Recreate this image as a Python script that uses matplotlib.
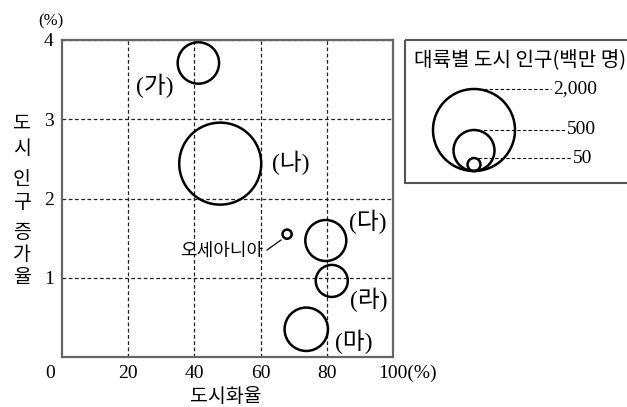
#!/usr/bin/env python3
"""Bubble chart: urbanization rate vs. urban population growth by continent."""

import matplotlib

matplotlib.use("Agg")
import matplotlib.pyplot as plt
from matplotlib.patches import Circle, Rectangle
import numpy as np

# data
labels = ["(가)", "(나)", "(다)", "(라)", "(마)", "오세아니아"]
urban_rate = [41.2, 47.8, 79.7, 81.5, 73.8, 68.0]        # %
urban_growth = [3.71, 2.44, 1.47, 0.96, 0.35, 1.55]      # %
urban_pop = [510, 2000, 500, 305, 560, 25]               # million
legend_values = [2000, 500, 50]
legend_texts = ["2,000", "500", "50"]
xticks = [20, 40, 60, 80, 100]
xticklabels = ["20", "40", "60", "80", ""]
yticks = [1, 2, 3, 4]

KR = ["Noto Sans CJK KR", "DejaVu Sans"]
SERIF = ["Liberation Serif", "DejaVu Serif"]
SERIF_KR = ["Liberation Serif", "Noto Sans CJK KR"]

W, H, DPI = 627, 407, 100
R_MAX = 41.0  # radius in px of the 2,000 bubble


def radius_px(v):
    return R_MAX * np.sqrt(np.asarray(v, dtype=float) / legend_values[0])


fig = plt.figure(figsize=(W / DPI, H / DPI), dpi=DPI)

ax = fig.add_axes([62 / W, 1 - 357 / H, (393 - 62) / W, (357 - 40) / H])
ax.set_xlim(0, 100)
ax.set_ylim(0, 4)
ax.set_xticks(xticks)
ax.set_yticks(yticks)
ax.set_xticklabels(xticklabels, fontfamily=SERIF, fontsize=14)
ax.set_yticklabels([str(t) for t in yticks], fontfamily=SERIF, fontsize=14)
ax.tick_params(length=0, pad=6)
ax.grid(True, color="#222222", lw=0.9, ls=(0, (3, 2)))
ax.set_axisbelow(True)
for sp in ax.spines.values():
    sp.set_color("#666666")
    sp.set_linewidth(1.6)

sizes = (2 * radius_px(urban_pop) * 72 / DPI) ** 2
ax.scatter(urban_rate, urban_growth, s=sizes, facecolors="none",
           edgecolors="black", linewidths=1.8, zorder=3, clip_on=False)

# overlay axes in pixel coordinates for free text / legend
ov = fig.add_axes([0, 0, 1, 1])
ov.set_xlim(0, W)
ov.set_ylim(H, 0)
ov.axis("off")
ov.set_zorder(5)

# bubble labels
label_pos = [(155, 86), (291, 163), (368, 222), (369, 300), (354, 342)]
for (px, py), lab in zip(label_pos, labels[:5]):
    ov.text(px, py, lab, fontfamily=SERIF_KR, fontsize=17, ha="center",
            va="center")
ov.text(222, 251, labels[5], fontfamily=KR, fontsize=13, ha="center", va="center")
ov.plot([267, 281], [250, 240], color="black", lw=0.9)

# axis labels
ov.text(50, 373, "0", fontfamily=SERIF, fontsize=14, ha="center", va="center")
ov.text(378, 373, "100(%)", fontfamily=SERIF, fontsize=14, ha="left", va="center")
ov.text(51, 21, "(%)", fontfamily=SERIF, fontsize=12, ha="center", va="center")
ov.text(226, 396, "도시화율", fontfamily=KR, fontsize=14, ha="center", va="center")
ylab_chars = ["도", "시", "인", "구", "증", "가", "율"]
ylab_y = [123, 148, 180, 203, 232, 255, 277]
for ch, cy in zip(ylab_chars, ylab_y):
    ov.text(22, cy, ch, fontfamily=KR, fontsize=14, ha="center", va="center")

# legend box
ov.add_patch(Rectangle((405, 40), 240, 143, fill=False, ec="#555555",
                       lw=1.5, clip_on=False))
ov.text(414, 61, "대륙별 도시 인구(백만 명)", fontfamily=KR, fontsize=14.5,
        ha="left", va="center")
cx, base = 474, 171
line_end = [551, 565, 571]
for v, txt, xe in zip(legend_values, legend_texts, line_end):
    r = radius_px(v)
    ov.add_patch(Circle((cx, base - r), r, fill=False, ec="black", lw=1.8))
    ty = base - 2 * r
    ov.plot([cx + 4, xe], [ty, ty], color="black", lw=0.8, ls=(0, (3, 2)))
    ov.text(xe + 2, ty, txt, fontfamily=SERIF, fontsize=14, ha="left",
            va="center")

fig.savefig("out.png", dpi=DPI)
